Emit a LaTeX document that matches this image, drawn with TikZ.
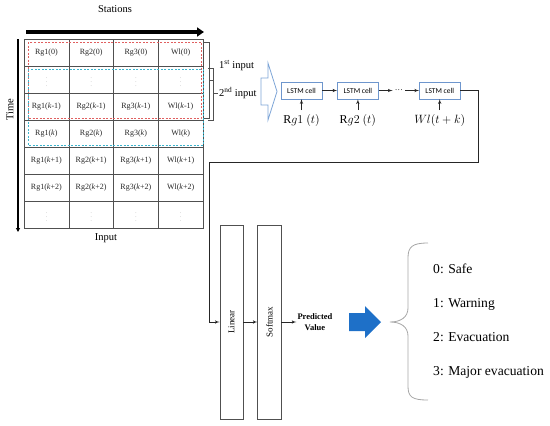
\documentclass[tikz,border=0pt]{standalone}
\usepackage{fontspec}
\setmainfont{Liberation Serif}
\newfontfamily\cellfont{Carlito}
\usepackage{graphicx}
\usetikzlibrary{shapes, arrows, arrows.meta, positioning, calc}

\definecolor{gridgray}{RGB}{80,80,80}
\definecolor{boxblue}{RGB}{110,150,205}
\definecolor{hollowblue}{RGB}{125,165,215}
\definecolor{arrowblue}{RGB}{30,112,200}
\definecolor{dashred}{RGB}{225,95,95}
\definecolor{dashcyan}{RGB}{60,180,205}

\begin{document}
\begin{tikzpicture}[
    x=1pt, y=-1pt,
    cell/.style={
        rectangle,
        draw=gridgray,
        minimum width=44.75pt,
        minimum height=27pt,
        inner sep=0pt,
        text=black!85,
        font=\fontsize{8}{9}\selectfont
    },
    lstm/.style={
        rectangle,
        draw=boxblue,
        minimum width=41pt,
        minimum height=17pt,
        inner sep=0pt,
        font=\cellfont\fontsize{7.5}{8}\selectfont
    },
    layer/.style={
        rectangle,
        draw=gridgray,
        minimum width=23.5pt,
        minimum height=194pt,
        inner sep=0pt,
        font=\fontsize{9}{10}\selectfont
    },
    inlabel/.style={
        inner sep=4pt,
        font=\fontsize{12}{13}\selectfont
    },
    txt/.style={
        inner sep=1pt,
        font=\fontsize{10.5}{12}\selectfont
    },
    classtxt/.style={
        anchor=west,
        inner sep=0pt,
        font=\fontsize{13.6}{15}\selectfont
    },
    line/.style={
        draw=black!85,
        -latex',
        line width=0.6pt
    }
]
\useasboundingbox (0,0) rectangle (550,426);

% Input table
\foreach \r/\arg in {0/0, 2/{\textit{k}-1}, 3/{\textit{k}}, 4/{\textit{k}+1}, 5/{\textit{k}+2}}
  \foreach \c/\name in {0/Rg1, 1/Rg2, 2/Rg3, 3/Wl}
    \node [cell] (c-\r-\c) at (46.4+44.75*\c, 52.5+27*\r) {\name(\arg)};
\foreach \r in {1,6}
  \foreach \c in {0,...,3}
    \node [cell, text=gridgray!70, font=\fontsize{5}{5}\selectfont] (c-\r-\c)
      at (46.4+44.75*\c, 52.5+27*\r) {$\vdots$};

% Windows
\draw [dashred, dash pattern=on 2pt off 1.5pt] (28,42) rectangle (201,118);
\draw [dashcyan, dash pattern=on 2pt off 1.5pt] (28,69) rectangle (203,145);

% Axes
\node [txt] (stations) at (115,9) {Stations};
\draw [line width=4pt, -{Triangle[length=7pt, width=9pt]}] (26,32) -- (204,32);
\node [txt, rotate=90] (time) at (10,110) {Time};
\draw [line width=2pt, -{Triangle[length=4pt, width=4pt]}] (18,39) -- (18,232);
\node [txt] (input) at (106,238) {Input};

% Brackets
\draw [gridgray, line width=0.7pt] (204,42) -- (209,42) -- (209,118) -- (204,118);
\draw [gridgray, line width=0.7pt] (209,80) -- (213,80);
\draw [gridgray, line width=0.7pt] (208,68) -- (213,68) -- (213,120) -- (208,120);
\draw [gridgray, line width=0.7pt] (213,93) -- (218,93);
\node [txt, anchor=west] (first) at (218,66) {1\textsuperscript{st} input};
\node [txt, anchor=west] (second) at (218,93) {2\textsuperscript{nd} input};

% LSTM chain
\draw [hollowblue, line width=0.8pt, fill=white] (261,78) -- (268,78) -- (268,63)
    -- (277,91.5) -- (268,120) -- (268,105) -- (261,105) -- cycle;
\node [lstm] (lstm1) at (301.5,90.5) {LSTM cell};
\node [lstm, right=15pt of lstm1] (lstm2) {LSTM cell};
\node [right=14pt of lstm2, inner sep=2pt, font=\fontsize{8}{9}\selectfont] (dots) {\dots};
\node [lstm, right=14pt of dots] (lstm3) {LSTM cell};
\node [inlabel, below=11pt of lstm1] (in1) {$\mathrm{R}g1\ (t)$};
\node [inlabel, below=11pt of lstm2] (in2) {$\mathrm{R}g2\ (t)$};
\node [inlabel, below=11pt of lstm3] (in3) {$Wl(t+k)$};

% Output layers
\node [layer] (linear) at (231.5,322) {\rotatebox{90}{Linear}};
\node [layer, right=14pt of linear] (softmax) {\rotatebox{90}{Softmax}};
\node [right=15pt of softmax, align=center, inner sep=1pt,
       font=\bfseries\fontsize{8.5}{10.5}\selectfont] (pred) {Predicted\\Value};
\fill [arrowblue] (349,313) -- (365,313) -- (365,306) -- (381,322)
    -- (365,338) -- (365,331) -- (349,331) -- cycle;

% Classes
\draw [gray!70, line width=0.8pt] (428,243) .. controls (412,243) and (408,247) .. (408,258)
    -- (408,308) .. controls (408,317) and (401,322) .. (390,322)
    .. controls (401,322) and (408,327) .. (408,336)
    -- (408,386) .. controls (408,397) and (412,400) .. (428,400);
\node [classtxt] (safe) at (433,269) {0: Safe};
\node [classtxt] (warning) at (433,304) {1: Warning};
\node [classtxt] (evac) at (433,337) {2: Evacuation};
\node [classtxt] (major) at (433,372) {3: Major evacuation};

% Paths
\path [line] (lstm1) -- (lstm2);
\path [line] (lstm2) -- (dots);
\path [line] (dots) -- (lstm3);
\path [line] (in1) -- (lstm1);
\path [line] (in2) -- (lstm2);
\path [line] (in3) -- (lstm3);
\coordinate (turn) at (478,162);
\coordinate (drop) at (209,162);
\path [line] (lstm3.east) -| (turn) -- (drop) |- (linear.west);
\path [line] (linear) -- (softmax);
\path [line] (softmax) -- (pred);

\end{tikzpicture}
\end{document}
